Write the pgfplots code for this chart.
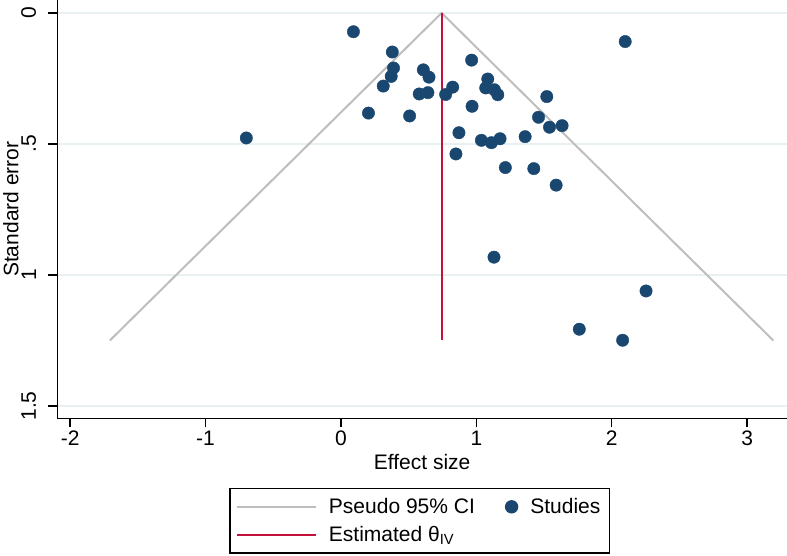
\documentclass[border=0pt]{standalone}
\usepackage{fontspec}
\setmainfont{Liberation Sans}
\usepackage{pgfplots}
\pgfplotsset{compat=1.18}
\definecolor{stnavy}{RGB}{26,71,111}
\definecolor{stred}{RGB}{198,16,60}
\definecolor{cigray}{RGB}{190,190,190}
\definecolor{gridc}{RGB}{232,240,242}
\newcommand\bigf{\fontsize{21bp}{25bp}\selectfont}
\begin{document}
\begin{tikzpicture}[font=\bigf]
\path[use as bounding box] (0,0) rectangle (787bp,556bp);
\begin{axis}[
  at={(57.3bp,137.7bp)}, anchor=south west,
  scale only axis, width=729.7bp, height=418.3bp,
  xmin=-2.095, xmax=3.294, ymin=-0.0496, ymax=1.547,
  y dir=reverse,
  axis x line*=bottom, axis y line*=left,
  axis line style={line width=1.4bp, black, -},
  xtick={-2,-1,0,1,2,3},
  ytick={0,0.5,1,1.5}, yticklabels={0,.5,1,1.5},
  tick align=outside, major tick length=9bp,
  tick style={line width=1.4bp, black},
  /pgf/number format/assume math mode=true,
  every tick label/.append style={font=\bigf},
  yticklabel style={rotate=90, anchor=south, inner ysep=12bp},
  ymajorgrids, xmajorgrids=false,
  major grid style={gridc, line width=1.5bp},
  xlabel={Effect size}, ylabel={Standard error},
  every axis label/.append style={font=\bigf},
  xlabel style={at={(axis description cs:0.5,-0.1045)}, anchor=center},
  ylabel style={at={(axis description cs:-0.0635,0.5)}, anchor=center},
  clip=false,
  legend columns=2,
  legend cell align=left,
  legend style={at={(0.4966,-0.166)}, anchor=north, draw=black, line width=1.4bp,
    font=\bigf, inner xsep=6bp, inner ysep=9bp,
    nodes={inner xsep=3bp, inner ysep=1bp},
    /tikz/every odd column/.append style={column sep=9bp},
    /tikz/every even column/.append style={column sep=27bp},
    row sep=9bp},
]
\addlegendimage{legend image code/.code={\draw[cigray, line width=2bp] (0bp,0bp) -- (79bp,0bp);}}
\addlegendentry{Pseudo 95\% CI}
\addlegendimage{legend image code/.code={\fill[stnavy] (0bp,0bp) circle (6bp);}}
\addlegendentry{Studies}
\addlegendimage{legend image code/.code={\draw[stred, line width=2bp] (0bp,0bp) -- (79bp,0bp);}}
\addlegendentry{Estimated θ\textsubscript{IV}}

\addplot[cigray, line width=2bp, forget plot] coordinates {(-1.707,1.25) (0.743,0) (3.193,1.25)};
\addplot[stred, line width=2bp, forget plot] coordinates {(0.743,0) (0.743,1.25)};
\addplot[only marks, mark=*, mark size=6.2bp, mark options={fill=stnavy, draw=stnavy}, forget plot] coordinates {
(0.092,0.0715)
(0.379,0.149)
(0.388,0.210)
(0.371,0.242)
(0.312,0.279)
(0.203,0.382)
(-0.699,0.477)
(0.608,0.217)
(0.650,0.245)
(0.578,0.309)
(0.642,0.304)
(0.507,0.393)
(0.773,0.311)
(0.825,0.283)
(0.965,0.180)
(1.084,0.252)
(1.069,0.286)
(1.133,0.293)
(1.158,0.312)
(0.968,0.356)
(1.520,0.319)
(1.459,0.398)
(1.540,0.436)
(1.633,0.430)
(0.871,0.457)
(1.037,0.486)
(1.111,0.495)
(1.175,0.480)
(1.360,0.472)
(0.849,0.538)
(1.214,0.590)
(1.424,0.594)
(1.589,0.657)
(1.130,0.932)
(2.099,0.109)
(2.253,1.061)
(1.760,1.207)
(2.080,1.249)
};
\end{axis}
\end{tikzpicture}
\end{document}
